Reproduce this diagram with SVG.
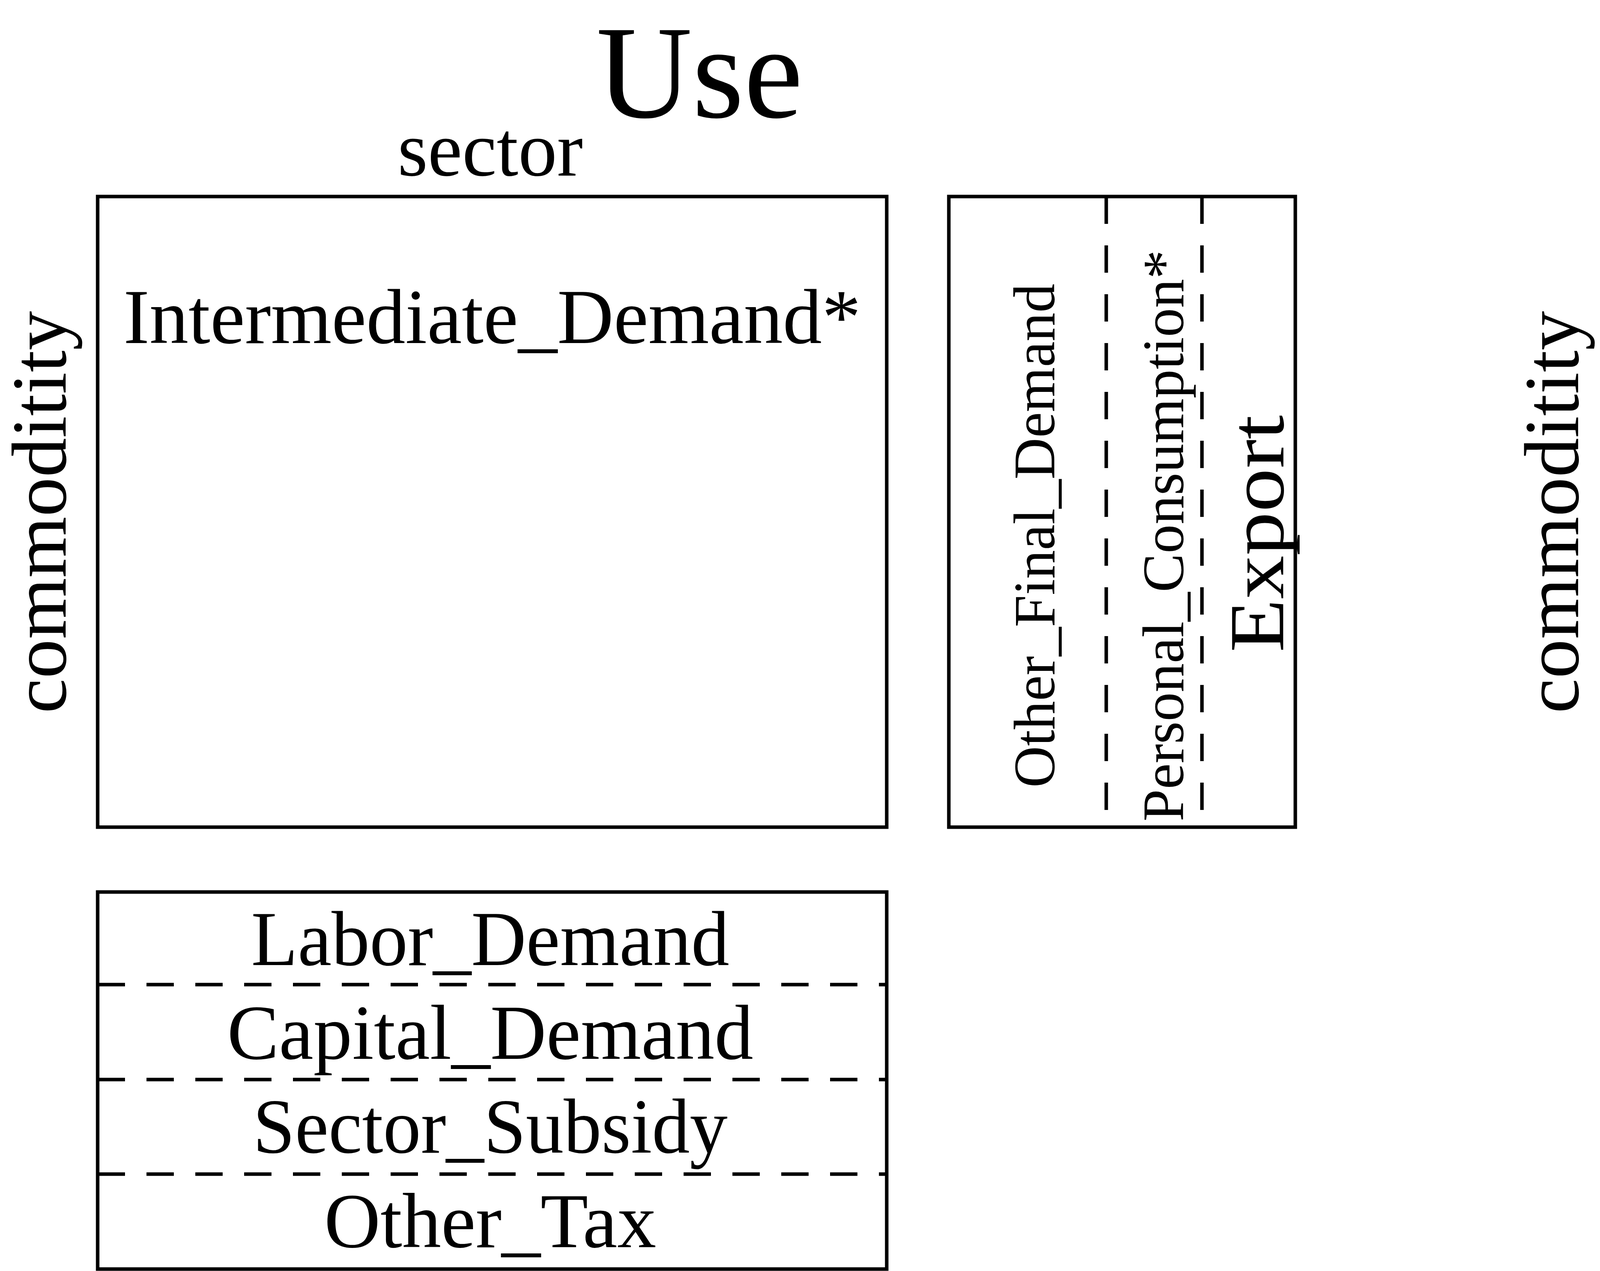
<svg xmlns="http://www.w3.org/2000/svg" width="8000" height="3253" viewBox="0 0 8000 3253">
<style>
text{font-family:"Liberation Serif","DejaVu Serif",serif;fill:#000;font-size:200px}
.box{fill:none;stroke:#000;stroke-width:9}
.dash{fill:none;stroke:#000;stroke-width:9;stroke-dasharray:70 55}
.title{font-size:340px;text-anchor:middle}
.mid{text-anchor:middle}
</style>
<rect width="8000" height="3253" fill="#fff"/>
<text class="title" x="1791" y="300">Use</text>
<text class="title" x="5934" y="290">Supply</text>
<g id="use_main">
<rect class="box" x="250" y="503" width="2020" height="1614"/>
<text class="mid" x="1255" y="449" textLength="474" lengthAdjust="spacingAndGlyphs">sector</text>
<text class="mid" transform="translate(168,1311) rotate(-90)" textLength="1030" lengthAdjust="spacingAndGlyphs">commoditity</text>
<text x="316" y="878" textLength="1888" lengthAdjust="spacingAndGlyphs">Intermediate_Demand*</text>
</g>
<g id="use_final">
<rect class="box" x="2429" y="503" width="887" height="1614"/>
<line class="dash" x1="2832" y1="503" x2="2832" y2="2117"/>
<line class="dash" x1="3077" y1="503" x2="3077" y2="2117"/>
<text class="mid" style="font-size:150px" transform="translate(2699,1371) rotate(-90)" textLength="1290" lengthAdjust="spacingAndGlyphs">Other_Final_Demand</text>
<text class="mid" style="font-size:150px" transform="translate(3029,1371) rotate(-90)" textLength="1463" lengthAdjust="spacingAndGlyphs">Personal_Consumption*</text>
<text class="mid" transform="translate(3285,1366) rotate(-90)" textLength="607" lengthAdjust="spacingAndGlyphs">Export</text>
</g>
<g id="use_value_added">
<rect class="box" x="250" y="2283" width="2020" height="965"/>
<line class="dash" x1="250" y1="2520" x2="2270" y2="2520"/>
<line class="dash" x1="250" y1="2763" x2="2270" y2="2763"/>
<line class="dash" x1="250" y1="3005" x2="2270" y2="3005"/>
<text class="mid" x="1255" y="2470" textLength="1224" lengthAdjust="spacingAndGlyphs">Labor_Demand</text>
<text class="mid" x="1255" y="2710" textLength="1347" lengthAdjust="spacingAndGlyphs">Capital_Demand</text>
<text class="mid" x="1255" y="2950" textLength="1215" lengthAdjust="spacingAndGlyphs">Sector_Subsidy</text>
<text class="mid" x="1255" y="3192" textLength="850" lengthAdjust="spacingAndGlyphs">Other_Tax</text>
</g>
<g id="supply_main">
<rect class="box" x="4122" y="503" width="2016" height="1614"/>
<text class="mid" x="5128" y="449" textLength="474" lengthAdjust="spacingAndGlyphs">sector</text>
<text class="mid" transform="translate(4040,1311) rotate(-90)" textLength="1030" lengthAdjust="spacingAndGlyphs">commoditity</text>
<text x="4250" y="878" textLength="1760" lengthAdjust="spacingAndGlyphs">Intermediate_Supply*</text>
</g>
<g id="supply_columns">
<rect class="box" x="6301" y="505" width="1692" height="1612"/>
<line class="dash" x1="6542" y1="505" x2="6542" y2="2117"/>
<line class="dash" x1="6785" y1="505" x2="6785" y2="2117"/>
<line class="dash" x1="7027" y1="505" x2="7027" y2="2117"/>
<line class="dash" x1="7270" y1="505" x2="7270" y2="2117"/>
<line class="dash" x1="7511" y1="505" x2="7511" y2="2117"/>
<line class="dash" x1="7754" y1="505" x2="7754" y2="2117"/>
<text class="mid" transform="translate(6475,1318) rotate(-90)" textLength="1561" lengthAdjust="spacingAndGlyphs">Household_Supply*</text>
<text class="mid" transform="translate(6717,1330) rotate(-90)" textLength="620" lengthAdjust="spacingAndGlyphs">Import*</text>
<text class="mid" transform="translate(6958,1316) rotate(-90)" textLength="1407" lengthAdjust="spacingAndGlyphs">Margin_Demand*</text>
<text class="mid" transform="translate(7199,1318) rotate(-90)" textLength="1297" lengthAdjust="spacingAndGlyphs">Margin_Supply*</text>
<text class="mid" transform="translate(7434,1313) rotate(-90)" textLength="402" lengthAdjust="spacingAndGlyphs">Duty</text>
<text class="mid" transform="translate(7692,1313) rotate(-90)" textLength="299" lengthAdjust="spacingAndGlyphs">Tax</text>
<text class="mid" transform="translate(7922,1307) rotate(-90)" textLength="632" lengthAdjust="spacingAndGlyphs">Subsidy</text>
</g>
</svg>
